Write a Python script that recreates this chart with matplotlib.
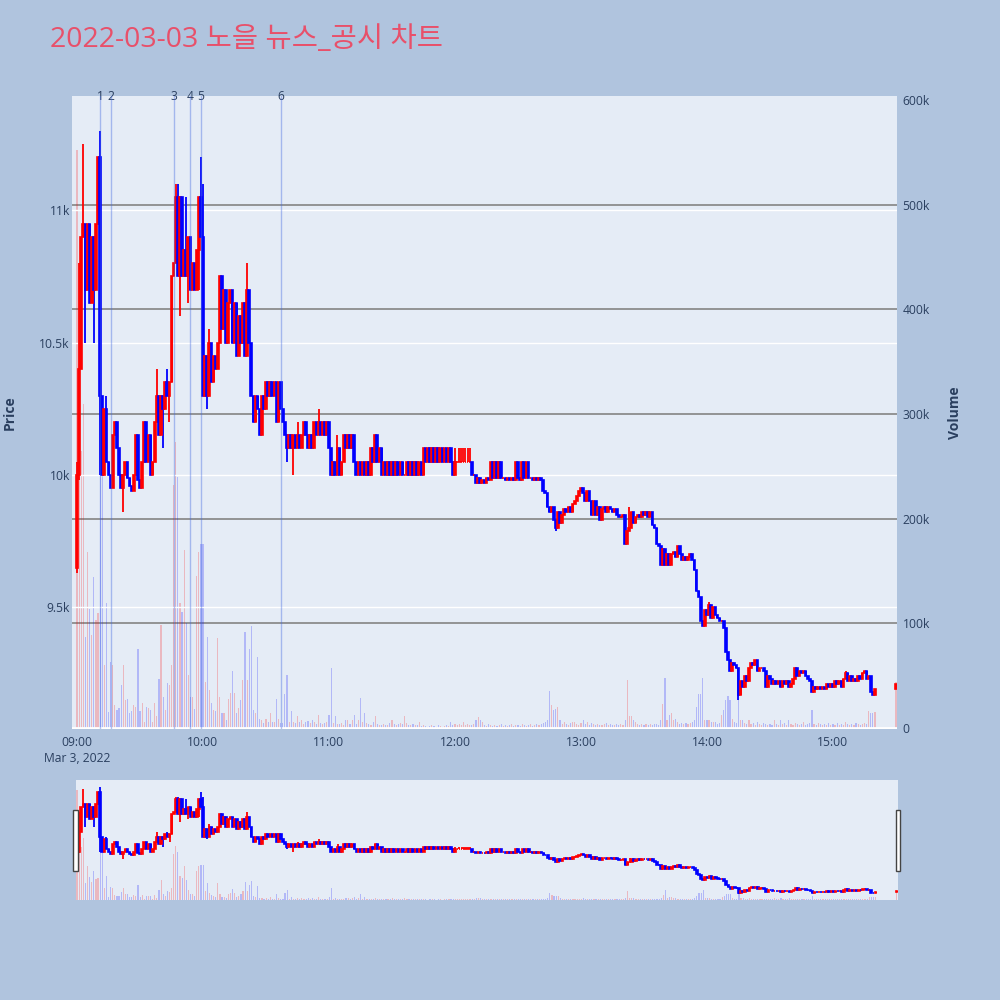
import matplotlib.pyplot as plt
import matplotlib.patches as patches
import matplotlib.transforms as mtransforms
import numpy as np
import pandas as pd

plt.rcParams['font.family'] = ['Open Sans', 'Noto Sans CJK KR', 'DejaVu Sans']


# ---- data (1 minute candles, 09:00 ~ 15:20 + closing 15:30) ----
first_open = 9650
close_price = [
    10000, 10400, 10900, 10950, 10700, 10950, 10650, 10900, 10700, 10950,
    11200, 10300, 10000, 10250, 10050, 10000, 9950, 10150, 10200, 10100,
    10000, 9950, 10000, 10050, 9990, 9960, 9940, 10000, 10150, 9980,
    9950, 10050, 10200, 10050, 10150, 10000, 10050, 10200, 10300, 10150,
    10300, 10250, 10350, 10300, 10350, 10750, 10800, 11050, 10750, 11050,
    10750, 10850, 10750, 10900, 10700, 10800, 10700, 10850, 11050, 10900,
    10300, 10450, 10300, 10500, 10350, 10450, 10400, 10500, 10750, 10550,
    10700, 10500, 10650, 10700, 10500, 10650, 10450, 10600, 10500, 10650,
    10450, 10700, 10500, 10300, 10200, 10300, 10250, 10150, 10300, 10250,
    10350, 10300, 10350, 10300, 10350, 10200, 10350, 10250, 10200, 10150,
    10100, 10150, 10100, 10150, 10100, 10150, 10100, 10150, 10200, 10150,
    10100, 10150, 10100, 10200, 10150, 10200, 10150, 10200, 10150, 10200,
    10100, 10000, 10050, 10000, 10100, 10000, 10050, 10150, 10100, 10150,
    10100, 10150, 10050, 10000, 10050, 10000, 10050, 10000, 10050, 10000,
    10100, 10050, 10150, 10050, 10100, 10000, 10050, 10000, 10050, 10000,
    10050, 10000, 10050, 10000, 10050, 10000, 10000, 10050, 10000, 10050,
    10000, 10050, 10000, 10050, 10000, 10100, 10050, 10100, 10050, 10100,
    10050, 10100, 10050, 10100, 10050, 10100, 10050, 10100, 10050, 10000,
    10050, 10050, 10050, 10050, 10050, 10050, 10050, 10050, 10000, 10000,
    9970, 9990, 9970, 9980, 9970, 9990, 9980, 10050, 9990, 10050,
    9990, 10050, 9990, 9990, 9980, 9990, 9980, 9990, 9980, 10050,
    9990, 9980, 10050, 9990, 10050, 9990, 9990, 9980, 9990, 9980,
    9990, 9980, 9940, 9930, 9880, 9860, 9880, 9830, 9800, 9860,
    9820, 9850, 9870, 9860, 9880, 9860, 9890, 9900, 9920, 9940,
    9950, 9930, 9900, 9940, 9900, 9850, 9900, 9850, 9880, 9830,
    9870, 9880, 9860, 9880, 9870, 9860, 9870, 9850, 9840, 9840,
    9850, 9740, 9790, 9800, 9860, 9820, 9840, 9850, 9840, 9860,
    9850, 9860, 9840, 9860, 9810, 9800, 9740, 9730, 9660, 9720,
    9660, 9700, 9660, 9700, 9710, 9690, 9730, 9700, 9680, 9690,
    9680, 9690, 9700, 9680, 9640, 9560, 9540, 9450, 9430, 9490,
    9470, 9510, 9460, 9500, 9470, 9460, 9450, 9450, 9420, 9330,
    9300, 9260, 9290, 9280, 9270, 9170, 9220, 9200, 9240, 9220,
    9270, 9290, 9280, 9300, 9260, 9270, 9270, 9260, 9200, 9240,
    9230, 9210, 9220, 9210, 9220, 9200, 9220, 9210, 9220, 9200,
    9210, 9230, 9270, 9240, 9260, 9250, 9260, 9240, 9230, 9220,
    9180, 9200, 9190, 9200, 9190, 9200, 9190, 9210, 9200, 9210,
    9200, 9220, 9210, 9220, 9200, 9230, 9250, 9220, 9240, 9220,
    9230, 9220, 9240, 9230, 9250, 9260, 9230, 9240, 9180, 9170, 9190,
    9210,
]
# wicks that stick out of the bodies (index -> price)
high_wick = {0: 10050, 1: 10800, 3: 11250, 11: 11300, 14: 10300, 38: 10400,
             43: 10400, 47: 11100, 48: 11100, 52: 11050, 59: 11200, 60: 11100,
             63: 10550, 81: 10800, 105: 10200, 115: 10250, 124: 10150,
             180: 10100, 182: 10100, 183: 10100, 184: 10100, 185: 10100,
             186: 10100, 187: 10100, 197: 10050, 263: 9880, 301: 9520, 366: 9260}
low_wick = {0: 9630, 1: 9980, 4: 10500, 8: 10500, 11: 10000, 22: 9860,
            41: 10100, 44: 10200, 49: 10600, 53: 10650, 58: 10700, 62: 10250,
            100: 10050, 103: 10000, 228: 9790, 315: 9150}

volume_k = [
    552, 300, 265, 310, 87, 168, 114, 89, 144, 103,
    110, 250, 270, 60, 119, 15, 63, 60, 22, 17,
    19, 41, 60, 27, 28, 14, 16, 22, 20, 75,
    16, 24, 6, 20, 19, 17, 6, 24, 11, 47,
    98, 30, 17, 43, 41, 60, 232, 273, 240, 119,
    111, 170, 100, 51, 30, 30, 18, 145, 168, 176,
    176, 44, 87, 36, 24, 17, 16, 86, 30, 14,
    14, 8, 28, 33, 54, 33, 14, 19, 27, 46,
    92, 46, 75, 97, 17, 14, 68, 9, 8, 5,
    9, 6, 14, 6, 6, 28, 9, 5, 5, 32,
    51, 6, 16, 6, 5, 11, 6, 8, 4, 6,
    7, 5, 8, 6, 4, 12, 5, 4, 5, 6,
    12, 57, 5, 11, 4, 4, 5, 3, 8, 8,
    4, 8, 12, 4, 8, 29, 6, 14, 5, 4,
    3, 6, 11, 4, 3, 3, 4, 3, 3, 5,
    8, 4, 3, 4, 5, 4, 11, 5, 3, 3,
    4, 3, 3, 6, 2, 3, 2, 1, 2, 3,
    2, 1, 3, 2, 1, 2, 3, 2, 6, 3,
    4, 3, 4, 3, 6, 3, 4, 3, 3, 4,
    8, 10, 8, 6, 3, 2, 4, 3, 2, 3,
    2, 3, 4, 2, 3, 2, 3, 4, 2, 3,
    3, 2, 4, 3, 2, 3, 4, 2, 3, 4,
    3, 4, 5, 6, 8, 35, 22, 17, 18, 20,
    8, 4, 6, 4, 3, 5, 6, 6, 4, 3,
    5, 8, 4, 6, 3, 5, 4, 3, 4, 3,
    3, 4, 5, 3, 4, 3, 3, 4, 3, 4,
    3, 8, 46, 11, 11, 8, 6, 4, 3, 4,
    3, 4, 3, 4, 3, 4, 4, 3, 8, 23,
    48, 8, 12, 14, 8, 9, 6, 4, 5, 4,
    5, 4, 5, 6, 8, 20, 32, 32, 48, 8,
    8, 8, 6, 6, 6, 4, 5, 12, 17, 27,
    31, 27, 9, 6, 5, 33, 8, 8, 5, 4,
    8, 4, 5, 3, 6, 4, 3, 5, 4, 3,
    4, 3, 8, 4, 3, 8, 4, 5, 3, 8,
    4, 3, 5, 4, 3, 4, 6, 3, 4, 5,
    17, 4, 3, 5, 4, 3, 4, 3, 5, 3,
    4, 3, 5, 3, 4, 3, 6, 4, 3, 4,
    3, 5, 4, 3, 4, 5, 4, 16, 14, 14, 15,
    44,
]

news_times = ['09:11', '09:16', '09:46', '09:54', '09:59', '10:37']
news_labels = ['1', '2', '3', '4', '5', '6']

tick_times = ['09:00', '10:00', '11:00', '12:00', '13:00', '14:00', '15:00']
price_ticks = [9500, 10000, 10500, 11000]
price_tick_labels = ['9.5k', '10k', '10.5k', '11k']
volume_ticks = [0, 100000, 200000, 300000, 400000, 500000, 600000]
volume_tick_labels = ['0', '100k', '200k', '300k', '400k', '500k', '600k']

title = '2022-03-03 노을 뉴스_공시 차트'


# ---- build candles ----
times = list(pd.date_range('2022-03-03 09:00', '2022-03-03 15:20', freq='min'))
times.append(pd.Timestamp('2022-03-03 15:30'))
t0 = pd.Timestamp('2022-03-03 09:00')


def to_min(t):
    return (pd.Timestamp(t) - t0).total_seconds() / 60


x = np.array([to_min(t) for t in times])
c = np.array(close_price, dtype=float)
o = np.concatenate([[first_open], c[:-1]])
h = np.maximum(o, c)
l = np.minimum(o, c)
for k, v in high_wick.items():
    h[k] = max(h[k], v)
for k, v in low_wick.items():
    l[k] = min(l[k], v)
vol = np.array(volume_k) * 1000
up = c >= o

RED = '#ff0000'
BLUE = '#0000ff'
BG = '#e5ecf6'
TXT = '#2a3f5f'


def draw(ax_v, ax_p):
    # volume bars (behind)
    vcol = [(1, 0, 0, 0.22) if u else (0, 0, 1, 0.22) for u in up]
    ax_v.bar(x, vol, width=0.55, color=vcol, linewidth=0, zorder=2)
    # candles
    ccol = [RED if u else BLUE for u in up]
    ax_p.vlines(x, l, h, colors=ccol, linewidth=1.3, zorder=3)
    ax_p.bar(x, np.abs(c - o), bottom=np.minimum(o, c), width=0.8,
             color=ccol, edgecolor=ccol, linewidth=1.2, zorder=4)


fig = plt.figure(figsize=(10, 10), dpi=100)
fig.patch.set_facecolor('#b0c4de')

# main chart: volume axes underneath, price on the twin
ax_v = fig.add_axes([0.072, 0.271, 0.825, 0.633])
ax_v.set_facecolor(BG)
ax_p = ax_v.twinx()
ax_v.yaxis.tick_right()
ax_p.yaxis.tick_left()
ax_p.yaxis.set_label_position('left')

draw(ax_v, ax_p)

ax_v.set_xlim(-2.4, 390.5)
ax_v.set_ylim(-1000, 604000)
ax_p.set_ylim(9040, 11432)

ax_v.set_yticks(volume_ticks)
ax_v.set_yticklabels(volume_tick_labels)
ax_p.set_yticks(price_ticks)
ax_p.set_yticklabels(price_tick_labels)
ax_v.set_xticks([to_min('2022-03-03 ' + s) for s in tick_times])
ax_v.set_xticklabels(tick_times)

# grey volume grid (not at 0 / 600k), white zero line, white price grid
for v in volume_ticks[1:-1]:
    ax_v.axhline(v, color='#8c8c8c', linewidth=1.3, zorder=1)
ax_v.axhline(0, color='white', linewidth=2, zorder=2.5)
ax_p.grid(axis='y', color='white', linewidth=1.0)
ax_p.set_axisbelow(True)

for a in (ax_v, ax_p):
    for s in a.spines.values():
        s.set_visible(False)
    a.tick_params(length=0, labelsize=8.7, labelcolor=TXT)
ax_v.tick_params(axis='x', pad=5)
ax_v.tick_params(axis='y', pad=4)
ax_p.tick_params(axis='y', pad=1.5)

ax_v.annotate('Mar 3, 2022', xy=(0, 0), xycoords=('data', 'axes fraction'),
              xytext=(0, -21), textcoords='offset points', ha='center',
              va='center', fontsize=8.7, color=TXT)

# news / disclosure markers
trans = mtransforms.blended_transform_factory(ax_p.transData, ax_p.transAxes)
for t, lab in zip(news_times, news_labels):
    xm = to_min('2022-03-03 ' + t)
    ax_p.axvline(xm, color='royalblue', alpha=0.4, linewidth=1.0, zorder=6)
    ax_p.text(xm, 1.0, lab, transform=trans, ha='center', va='center',
              fontsize=8.7, color=TXT)

fig.text(0.010, 0.5875, 'Price', rotation=90, ha='center', va='center',
         fontsize=10, fontweight='bold', color=TXT)
fig.text(0.955, 0.5875, 'Volume', rotation=90, ha='center', va='center',
         fontsize=10, fontweight='bold', color=TXT)
fig.text(0.05, 0.96, title, ha='left', va='center', fontsize=20.5,
         color='#e8506a')

# range slider
sl_v = fig.add_axes([0.076, 0.100, 0.822, 0.120])
sl_v.set_facecolor(BG)
sl_p = sl_v.twinx()
draw(sl_v, sl_p)
sl_v.set_xlim(-0.5, 390.7)
sl_v.set_ylim(-1000, 604000)
sl_p.set_ylim(9040, 11432)
for a in (sl_v, sl_p):
    a.set_xticks([])
    a.set_yticks([])
    for s in a.spines.values():
        s.set_visible(False)

for hx in (0.0733, 0.8960):
    fig.add_artist(patches.Rectangle((hx, 0.1293), 0.0043, 0.0607,
                                     transform=fig.transFigure, facecolor='white',
                                     edgecolor='#444444', linewidth=1.0))

fig.savefig('out.png', dpi=100, facecolor=fig.get_facecolor())
